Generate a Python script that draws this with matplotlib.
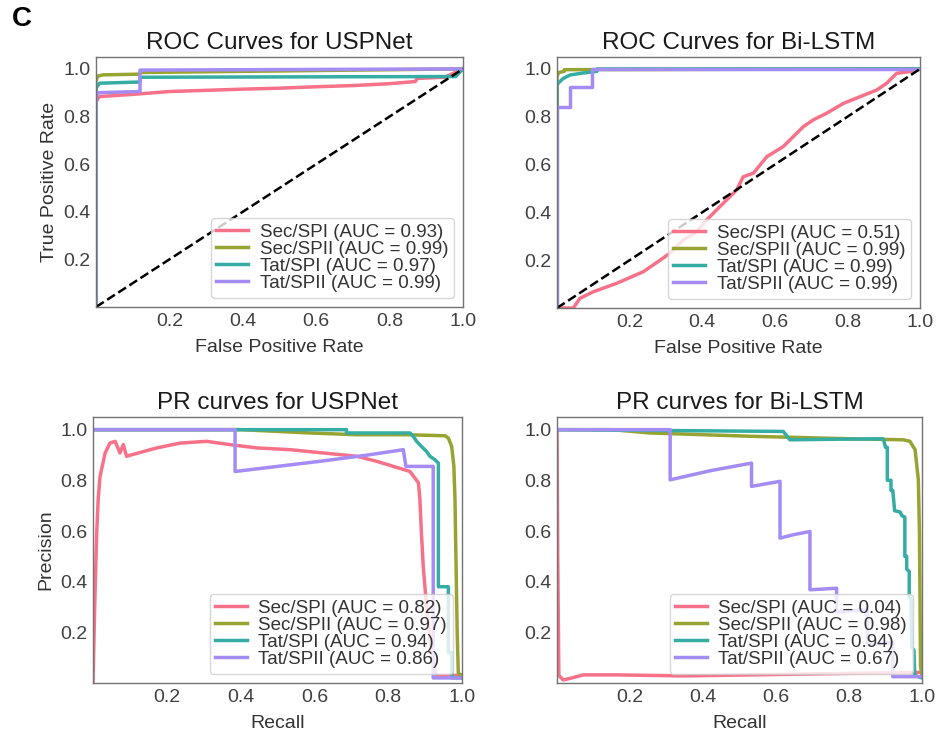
import matplotlib
matplotlib.use("Agg")
import matplotlib.pyplot as plt

plt.rcParams["font.family"] = ["Liberation Sans", "DejaVu Sans"]

# husl palette, 4 classes
COLORS = ["#f77189", "#97a431", "#36ada4", "#a48cf4"]
CLASSES = ["Sec/SPI", "Sec/SPII", "Tat/SPI", "Tat/SPII"]

# ── ROC, USPNet ──────────────────────────────────────────────
usp_roc_auc = [0.93, 0.99, 0.97, 0.99]
usp_sec1_fpr = [0, 0, 0.005, 0.01, 0.05, 0.1, 0.2, 0.3, 0.4, 0.5, 0.6, 0.7, 0.8, 0.87, 0.875, 0.95, 1.0]
usp_sec1_tpr = [0, 0.86, 0.875, 0.884, 0.888, 0.893, 0.905, 0.91, 0.915, 0.919, 0.925, 0.93, 0.938, 0.947, 0.96, 0.965, 1.0]
usp_sec2_fpr = [0, 0, 0.005, 0.02, 0.12, 0.12, 1.0]
usp_sec2_tpr = [0, 0.95, 0.97, 0.975, 0.978, 0.985, 1.0]
usp_tat1_fpr = [0, 0, 0.01, 0.12, 0.12, 0.98, 1.0]
usp_tat1_tpr = [0, 0.92, 0.94, 0.945, 0.965, 0.968, 1.0]
usp_tat2_fpr = [0, 0, 0.005, 0.12, 0.12, 1.0]
usp_tat2_tpr = [0, 0.88, 0.9, 0.905, 0.995, 1.0]

# ── ROC, Bi-LSTM ─────────────────────────────────────────────
lstm_roc_auc = [0.51, 0.99, 0.99, 0.99]
lstm_sec1_fpr = [0, 0.045, 0.063, 0.1, 0.164, 0.238, 0.284, 0.311, 0.348, 0.385, 0.412, 0.458, 0.495,
                 0.513, 0.541, 0.578, 0.623, 0.679, 0.706, 0.743, 0.789, 0.835, 0.881, 0.908, 0.936, 0.972, 1.0]
lstm_sec1_tpr = [0, 0, 0.04, 0.068, 0.103, 0.152, 0.2, 0.229, 0.285, 0.319, 0.368, 0.438, 0.494,
                 0.549, 0.564, 0.633, 0.675, 0.759, 0.787, 0.815, 0.856, 0.884, 0.912, 0.94, 0.982, 0.989, 1.0]
lstm_sec2_fpr = [0, 0, 0.005, 0.02, 0.02, 1.0]
lstm_sec2_tpr = [0, 0.97, 0.985, 0.99, 0.997, 1.0]
lstm_tat1_fpr = [0, 0, 0.003, 0.017, 0.036, 0.072, 0.11, 0.11, 1.0]
lstm_tat1_tpr = [0, 0.93, 0.94, 0.96, 0.975, 0.983, 0.99, 1.0, 1.0]
lstm_tat2_fpr = [0, 0, 0.036, 0.036, 0.096, 0.096, 1.0]
lstm_tat2_tpr = [0, 0.84, 0.84, 0.925, 0.925, 1.0, 1.0]

# ── PR, USPNet ───────────────────────────────────────────────
usp_pr_auc = [0.82, 0.97, 0.94, 0.86]
usp_sec1_rec = [0, 0.005, 0.01, 0.014, 0.019, 0.033, 0.046, 0.06, 0.073, 0.082, 0.091, 0.105, 0.173, 0.236,
                0.308, 0.371, 0.444, 0.534, 0.624, 0.715, 0.769, 0.814, 0.859, 0.882, 0.886, 0.89, 0.895,
                0.904, 0.915, 0.93, 1.0]
usp_sec1_prec = [0, 0.328, 0.59, 0.723, 0.815, 0.908, 0.947, 0.954, 0.908, 0.941, 0.895, 0.901, 0.928, 0.947,
                 0.954, 0.941, 0.928, 0.921, 0.908, 0.895, 0.875, 0.855, 0.835, 0.79, 0.723, 0.592, 0.46,
                 0.3, 0.15, 0.03, 0.03]
usp_sec2_rec = [0, 0.4, 0.588, 0.715, 0.85, 0.954, 0.963, 0.972, 0.978, 0.981, 0.984, 0.987, 0.99, 1.0]
usp_sec2_prec = [1.0, 1.0, 0.987, 0.98, 0.98, 0.976, 0.967, 0.934, 0.855, 0.723, 0.46, 0.196, 0.038, 0.03]
usp_tat1_rec = [0, 0.687, 0.687, 0.859, 0.868, 0.877, 0.89, 0.904, 0.913, 0.927, 0.936, 0.936, 0.963,
                0.963, 0.972, 0.972, 1.0]
usp_tat1_prec = [1.0, 1.0, 0.987, 0.987, 0.974, 0.954, 0.934, 0.914, 0.895, 0.881, 0.868, 0.38, 0.38,
                 0.12, 0.12, 0.02, 0.02]
usp_tat2_rec = [0, 0.385, 0.385, 0.5, 0.62, 0.74, 0.841, 0.848, 0.922, 0.922, 1.0]
usp_tat2_prec = [1.0, 1.0, 0.835, 0.855, 0.876, 0.899, 0.921, 0.855, 0.855, 0.02, 0.02]

# ── PR, Bi-LSTM ──────────────────────────────────────────────
lstm_pr_auc = [0.04, 0.98, 0.94, 0.67]
lstm_sec1_rec = [0, 0.002, 0.005, 0.017, 0.035, 0.072, 0.164, 0.347, 0.53, 0.71, 0.894, 1.0]
lstm_sec1_prec = [1.0, 0.5, 0.03, 0.012, 0.018, 0.032, 0.032, 0.028, 0.032, 0.036, 0.04, 0.042]
lstm_sec2_rec = [0, 0.15, 0.255, 0.529, 0.803, 0.949, 0.967, 0.981, 0.99, 0.993, 0.996, 1.0]
lstm_sec2_prec = [1.0, 1.0, 0.987, 0.974, 0.964, 0.96, 0.954, 0.921, 0.802, 0.592, 0.064, 0.03]
lstm_tat1_rec = [0, 0.62, 0.638, 0.75, 0.894, 0.9, 0.905, 0.905, 0.915, 0.915, 0.92, 0.925, 0.94, 0.945,
                 0.953, 0.953, 0.958, 0.958, 0.965, 0.965, 0.97, 0.972, 0.978, 0.98, 1.0]
lstm_tat1_prec = [1.0, 0.993, 0.96, 0.962, 0.964, 0.93, 0.93, 0.8, 0.8, 0.76, 0.76, 0.68, 0.675, 0.66,
                  0.655, 0.5, 0.5, 0.45, 0.44, 0.34, 0.33, 0.14, 0.13, 0.03, 0.02]
lstm_tat2_rec = [0, 0.31, 0.31, 0.42, 0.533, 0.533, 0.575, 0.611, 0.611, 0.65, 0.693, 0.693, 0.73, 0.766,
                 0.766, 0.85, 0.85, 0.92, 0.92, 1.0]
lstm_tat2_prec = [1.0, 1.0, 0.802, 0.838, 0.868, 0.776, 0.787, 0.796, 0.572, 0.586, 0.598, 0.368, 0.371,
                  0.374, 0.28, 0.29, 0.15, 0.16, 0.025, 0.025]

W, H = 938, 733
fig = plt.figure(figsize=(W / 100, H / 100), dpi=100)


def rect(x0, y0, x1, y1):
    return [x0 / W, 1 - y1 / H, (x1 - x0) / W, (y1 - y0) / H]


panels = [
    (rect(96, 57, 463, 307), "ROC Curves for USPNet", "False Positive Rate", "True Positive Rate",
     [(usp_sec1_fpr, usp_sec1_tpr), (usp_sec2_fpr, usp_sec2_tpr),
      (usp_tat1_fpr, usp_tat1_tpr), (usp_tat2_fpr, usp_tat2_tpr)], usp_roc_auc, True),
    (rect(557, 57, 920, 308), "ROC Curves for Bi-LSTM", "False Positive Rate", None,
     [(lstm_sec1_fpr, lstm_sec1_tpr), (lstm_sec2_fpr, lstm_sec2_tpr),
      (lstm_tat1_fpr, lstm_tat1_tpr), (lstm_tat2_fpr, lstm_tat2_tpr)], lstm_roc_auc, True),
    (rect(93, 417, 462, 683), "PR curves for USPNet", "Recall", "Precision",
     [(usp_sec1_rec, usp_sec1_prec), (usp_sec2_rec, usp_sec2_prec),
      (usp_tat1_rec, usp_tat1_prec), (usp_tat2_rec, usp_tat2_prec)], usp_pr_auc, False),
    (rect(557, 417, 922, 683), "PR curves for Bi-LSTM", "Recall", None,
     [(lstm_sec1_rec, lstm_sec1_prec), (lstm_sec2_rec, lstm_sec2_prec),
      (lstm_tat1_rec, lstm_tat1_prec), (lstm_tat2_rec, lstm_tat2_prec)], lstm_pr_auc, False),
]

for pos, title, xlabel, ylabel, curves, aucs, is_roc in panels:
    ax = fig.add_axes(pos)
    for (xs, ys), name, auc, c in zip(curves, CLASSES, aucs, COLORS):
        ax.plot(xs, ys, color=c, lw=2.5, label=f"{name} (AUC = {auc:.2f})")
    if is_roc:
        ax.plot([0, 1], [0, 1], "k--", lw=1.8)
    ax.set_xlim(0.0, 1.0)
    ax.set_ylim(0.0, 1.05)
    ticks = [0.2, 0.4, 0.6, 0.8, 1.0]
    ax.set_xticks(ticks)
    ax.set_yticks(ticks)
    ax.tick_params(length=0, pad=4, labelsize=14, labelcolor="0.25")
    for s in ax.spines.values():
        s.set_color("0.45")
        s.set_linewidth(1.0)
    ax.set_title(title, fontsize=17.5, color="0.1", pad=6)
    ax.set_xlabel(xlabel, fontsize=14, color="0.2", labelpad=7)
    if ylabel:
        ax.set_ylabel(ylabel, fontsize=14, color="0.2", labelpad=4)
    leg = ax.legend(loc="lower right", fontsize=13.5, labelspacing=0.0, borderpad=0.3,
                    handlelength=1.7, handletextpad=0.6, borderaxespad=0.5)
    leg.get_frame().set_edgecolor("0.8")
    for t in leg.get_texts():
        t.set_color("0.2")

fig.text(12 / W, 1 - 6 / H, "C", fontsize=20, fontweight="bold", va="top", ha="left")

fig.savefig("out.png", dpi=100)
